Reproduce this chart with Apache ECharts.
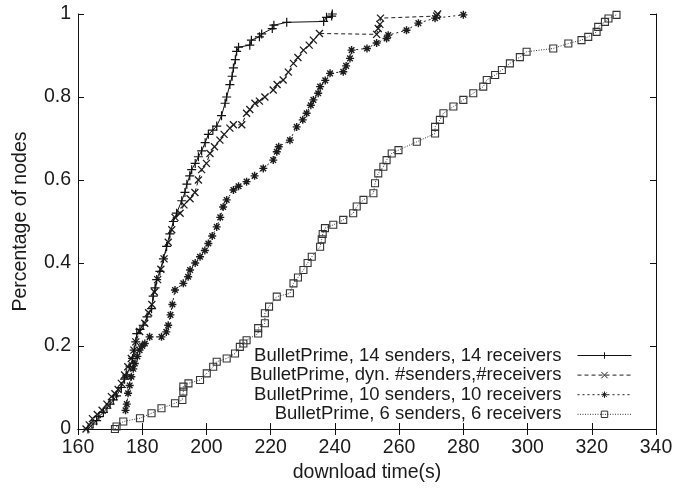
<!DOCTYPE html>
<html>
<head>
<meta charset="utf-8">
<script src="https://cdn.jsdelivr.net/npm/echarts@6/dist/echarts.min.js"></script>
<style>
  html, body { margin: 0; padding: 0; background: #fff; }
  #main { width: 677px; height: 491px; }
</style>
</head>
<body>
<div id="main"></div>
<script>
// download time (s), fraction of nodes
var names = [
  'BulletPrime, 14 senders, 14 receivers',
  'BulletPrime, dyn. #senders,#receivers',
  'BulletPrime, 10 senders, 10 receivers',
  'BulletPrime, 6 senders, 6 receivers'
];

var s14 = [
  [163.1,0],[164.7,0.012],[165.8,0.02],[166.5,0.03],[167.9,0.04],[169,0.05],[170,0.06],[171,0.07],
  [172,0.08],[173.5,0.1],[174.5,0.12],[175.2,0.13],[176.2,0.15],[177,0.17],[177.5,0.19],[178,0.21],
  [178.3,0.23],[179.3,0.24],[180.3,0.25],[181.5,0.27],[182.9,0.29],[183.4,0.32],[184,0.34],[184.5,0.36],
  [185.5,0.38],[186.6,0.41],[187.6,0.44],[188.6,0.47],[189.7,0.5],[190.7,0.52],[192.3,0.55],[193.3,0.57],
  [193.9,0.59],[194.8,0.61],[195.4,0.625],[196.5,0.64],[197.5,0.656],[198.5,0.67],[199.6,0.69],[200.6,0.71],
  [202,0.72],[203.2,0.73],[204.7,0.755],[205.8,0.785],[206.3,0.8],[207.3,0.83],[208,0.85],[208.4,0.87],
  [209,0.89],[209.4,0.91],[210,0.92],[213.5,0.925],[214,0.937],[216.5,0.945],[217.2,0.952],[220.5,0.965],
  [221,0.973],[225,0.98],[236.5,0.982],[237.4,0.992],[239,0.995],[239.2,1]
];

var sDyn = [
  [162.5,0],[163.5,0.01],[164.5,0.025],[166,0.035],[167.5,0.045],[169,0.06],[170.4,0.078],[171.5,0.085],
  [172.5,0.095],[173.5,0.11],[174.5,0.13],[175.5,0.15],[176.6,0.17],[177.4,0.19],[178,0.21],[179.2,0.235],
  [180.8,0.255],[182,0.28],[183,0.3],[183.8,0.33],[184.8,0.36],[185.8,0.385],[186.8,0.41],[188.1,0.45],
  [189.2,0.48],[190.2,0.51],[191.8,0.52],[193,0.54],[194.9,0.555],[196.4,0.57],[197.5,0.6],[198.5,0.625],
  [200,0.64],[201.1,0.664],[202.5,0.68],[204.2,0.696],[205.5,0.71],[207.3,0.725],[208.4,0.733],[211,0.733],
  [212.5,0.761],[213.5,0.77],[215.1,0.785],[216.5,0.79],[218.2,0.8],[220.8,0.817],[222,0.83],[223.9,0.841],
  [225.5,0.86],[227.1,0.881],[228.5,0.895],[230.2,0.913],[232,0.925],[233.3,0.937],[235.2,0.953],[253,0.951],
  [253.5,0.965],[254,0.975],[254.2,0.99],[271.7,0.995],[272,1]
];

var s10 = [
  [174.8,0.045],[175.2,0.06],[175.6,0.086],[176.1,0.105],[176.6,0.126],[177.2,0.145],[177.7,0.158],[178.5,0.175],
  [179.2,0.19],[180,0.2],[180.8,0.206],[182.3,0.222],[186,0.222],[187.5,0.234],[188.1,0.25],[188.8,0.275],
  [189.4,0.3],[190.2,0.335],[192.8,0.351],[194.3,0.367],[194.9,0.383],[196.5,0.4],[198,0.415],[199.5,0.43],
  [200.6,0.447],[201.8,0.465],[203.2,0.487],[204.3,0.51],[205.2,0.535],[206.3,0.552],[208.4,0.576],[210,0.585],
  [212.5,0.596],[215,0.61],[217.7,0.628],[220.8,0.648],[221.9,0.668],[222.5,0.68],[226,0.696],[228.1,0.728],
  [230,0.745],[231.2,0.761],[232.5,0.78],[233.3,0.793],[234.8,0.809],[235.4,0.825],[237,0.84],[238.5,0.857],
  [242.6,0.861],[243.5,0.875],[244.7,0.893],[245.2,0.913],[250,0.917],[253,0.93],[256.1,0.941],[256.6,0.949],
  [262.3,0.961],[266,0.978],[271.2,0.99],[280,0.998]
];

var s6 = [
  [171.5,0],[172,0.006],[174.1,0.018],[179.3,0.026],[182.9,0.038],[186,0.05],[190.2,0.062],[192.5,0.07],
  [192.8,0.09],[192.8,0.102],[194.4,0.11],[198,0.118],[200.1,0.134],[202.1,0.15],[203.2,0.162],[206.3,0.17],
  [208.9,0.182],[210.4,0.198],[211.5,0.206],[212.5,0.214],[216.1,0.23],[216.1,0.243],[218.2,0.255],[218.2,0.279],
  [219.5,0.295],[221.9,0.319],[226,0.327],[227.1,0.351],[228.5,0.365],[230.2,0.383],[231.5,0.4],[232.8,0.415],
  [235.4,0.439],[235.9,0.457],[236.2,0.47],[236.9,0.484],[239.5,0.492],[242.6,0.504],[245.7,0.52],[246.8,0.536],
  [248.9,0.552],[252,0.568],[252.5,0.592],[253.5,0.616],[255.1,0.632],[256.1,0.648],[257.7,0.664],[259.8,0.672],
  [265.5,0.692],[271.2,0.712],[271.2,0.728],[272.7,0.745],[273.8,0.761],[276.9,0.777],[280,0.793],[283.1,0.809],
  [286.2,0.825],[287.3,0.841],[289.9,0.853],[292,0.865],[294.5,0.881],[297.6,0.896],[299.7,0.909],[308,0.917],
  [312.7,0.929],[316.8,0.937],[318.9,0.945],[321.5,0.957],[322,0.969],[324.1,0.981],[325.2,0.989],[327.7,0.998]
];

var xMin = 160, xMax = 340, xStep = 20;
var yMin = 0, yMax = 1, yStep = 0.2;

var symPlus = 'path://M0,5L10,5M5,0L5,10';
var symCross = 'path://M0,0L10,10M10,0L0,10';
var symStar = 'path://M0,5L10,5M5,0L5,10M1.5,1.5L8.5,8.5M8.5,1.5L1.5,8.5';
var symBox = 'path://M0,0L10,0L10,10L0,10Z';

var font = '"Liberation Sans", Arial, Helvetica, sans-serif';
var ink = '#1a1a1a';

function mkSeries(name, data, symbol, size, dash, col, bw) {
  return {
    name: name,
    type: 'line',
    data: data,
    symbol: symbol,
    symbolSize: size,
    showAllSymbol: true,
    itemStyle: { color: 'rgba(0,0,0,0)', borderColor: col, borderWidth: bw },
    lineStyle: { color: col, width: 1, type: dash },
    emphasis: { disabled: true }
  };
}

var chart = echarts.init(document.getElementById('main'));

var axisLine = { show: true, lineStyle: { color: '#111', width: 1 } };
var tick = { show: true, inside: true, length: 6, lineStyle: { color: '#111', width: 1 } };

chart.setOption({
  animation: false,
  textStyle: { fontFamily: font },
  grid: { left: 78, right: 21, top: 14, bottom: 62 },
  legend: {
    orient: 'vertical',
    align: 'right',
    right: 45,
    top: 346,
    padding: 0,
    itemGap: 0.6,
    itemWidth: 54,
    itemHeight: 8,
    selectedMode: false,
    lineStyle: { width: 1 },
    itemStyle: { borderWidth: 1 },
    textStyle: { fontFamily: font, fontSize: 18.5, color: ink, lineHeight: 19, padding: [0, 11, 0, 0] },
    data: names
  },
  xAxis: [{
    type: 'value', min: xMin, max: xMax, interval: xStep, position: 'bottom',
    name: 'download time(s)', nameLocation: 'middle', nameGap: 34,
    nameTextStyle: { fontSize: 19.5, color: ink, fontFamily: font },
    axisLine: axisLine, axisTick: tick, splitLine: { show: false },
    axisLabel: { fontSize: 19.5, color: ink, margin: 9, fontFamily: font }
  }, {
    type: 'value', min: xMin, max: xMax, interval: xStep, position: 'top',
    axisLine: axisLine, axisTick: tick, splitLine: { show: false },
    axisLabel: { show: false }
  }],
  yAxis: [{
    type: 'value', min: yMin, max: yMax, interval: yStep, position: 'left',
    name: 'Percentage of nodes', nameLocation: 'middle', nameGap: 47,
    nameTextStyle: { fontSize: 19.5, color: ink, fontFamily: font },
    axisLine: axisLine, axisTick: tick, splitLine: { show: false },
    axisLabel: { fontSize: 19.5, color: ink, margin: 7, fontFamily: font }
  }, {
    type: 'value', min: yMin, max: yMax, interval: yStep, position: 'right',
    axisLine: axisLine, axisTick: tick, splitLine: { show: false },
    axisLabel: { show: false }
  }],
  series: [
    mkSeries(names[3], s6, symBox, 7, [1, 1.5], '#333', 1.1),
    mkSeries(names[2], s10, symStar, 8, [2, 3], '#1c1c1c', 1.4),
    mkSeries(names[1], sDyn, symCross, 7, [4, 3], '#1c1c1c', 1.3),
    mkSeries(names[0], s14, symPlus, 9, 'solid', '#111', 1.2)
  ]
});
</script>
</body>
</html>
